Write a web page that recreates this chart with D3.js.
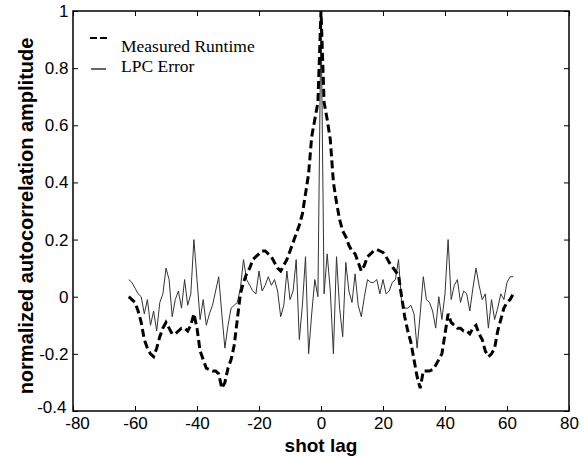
<!DOCTYPE html>
<html><head><meta charset="utf-8">
<script src="https://cdn.jsdelivr.net/npm/d3@7"></script>
<style>body{margin:0;background:#fff}</style>
</head><body><svg id="c" width="584" height="458"></svg>
<script>
const lags = [-62,-61,-60,-59,-58,-57,-56,-55,-54,-53,-52,-51,-50,-49,-48,-47,-46,-45,-44,-43,-42,-41,-40,-39,-38,-37,-36,-35,-34,-33,-32,-31,-30,-29,-28,-27,-26,-25,-24,-23,-22,-21,-20,-19,-18,-17,-16,-15,-14,-13,-12,-11,-10,-9,-8,-7,-6,-5,-4,-3,-2,-1,0,1,2,3,4,5,6,7,8,9,10,11,12,13,14,15,16,17,18,19,20,21,22,23,24,25,26,27,28,29,30,31,32,33,34,35,36,37,38,39,40,41,42,43,44,45,46,47,48,49,50,51,52,53,54,55,56,57,58,59,60,61,62];

const measuredRuntime = [0.00,-0.01,-0.02,-0.05,-0.09,-0.15,-0.18,-0.20,-0.21,-0.18,-0.14,-0.11,-0.09,-0.11,-0.13,-0.13,-0.12,-0.11,-0.11,-0.12,-0.10,-0.06,-0.11,-0.19,-0.22,-0.25,-0.255,-0.26,-0.26,-0.27,-0.32,-0.30,-0.25,-0.22,-0.17,-0.08,0.01,0.05,0.08,0.10,0.13,0.14,0.15,0.16,0.16,0.15,0.14,0.12,0.10,0.09,0.11,0.13,0.16,0.19,0.22,0.25,0.29,0.36,0.43,0.56,0.62,0.68,
1.00,
0.68,0.62,0.55,0.40,0.33,0.27,0.23,0.21,0.18,0.16,0.15,0.12,0.09,0.11,0.14,0.15,0.16,0.165,0.16,0.155,0.14,0.12,0.105,0.09,0.075,0.00,-0.07,-0.12,-0.16,-0.22,-0.28,-0.32,-0.26,-0.26,-0.26,-0.255,-0.24,-0.22,-0.20,-0.13,-0.06,-0.09,-0.10,-0.11,-0.11,-0.12,-0.12,-0.13,-0.11,-0.10,-0.13,-0.15,-0.19,-0.21,-0.20,-0.18,-0.12,-0.08,-0.04,-0.02,-0.01,0.01];

const lpcError = [0.06,0.05,0.03,0.01,0.00,-0.06,-0.01,-0.10,-0.05,-0.12,-0.02,0.01,0.10,0.06,-0.07,-0.01,0.02,-0.04,0.06,-0.03,0.01,0.20,0.06,-0.08,-0.01,-0.10,-0.06,-0.03,0.02,0.07,-0.06,-0.18,-0.10,-0.04,-0.03,-0.02,0.03,0.13,0.06,0.04,0.02,0.01,0.09,0.02,0.04,0.07,0.04,0.06,0.02,-0.07,-0.03,0.09,-0.01,0.02,0.13,-0.15,-0.03,0.14,-0.20,-0.06,0.06,0.00,
1.00,
0.01,0.15,0.02,-0.20,0.14,-0.04,-0.14,0.12,0.02,-0.02,0.08,-0.03,-0.07,0.00,0.06,0.05,0.05,0.06,0.01,0.06,0.01,0.02,0.05,0.06,0.13,-0.02,-0.04,-0.04,-0.03,-0.06,-0.18,-0.06,0.07,-0.01,-0.02,-0.05,-0.11,0.00,-0.08,0.01,0.20,-0.01,0.04,0.06,-0.02,0.02,0.01,-0.05,0.03,0.10,0.04,-0.01,0.01,-0.11,-0.01,-0.08,-0.04,0.01,-0.01,0.05,0.07,0.07];

const xTicks = [-80,-60,-40,-20,0,20,40,60,80];
const xTickLabels = ["-80","-60","-40","-20","0","20","40","60","80"];
const yTicks = [-0.4,-0.2,0,0.2,0.4,0.6,0.8,1];
const yTickLabels = ["-0.4","-0.2","0","0.2","0.4","0.6","0.8","1"];
const seriesNames = ["Measured Runtime","LPC Error"];
const xLabel = "shot lag";
const yLabel = "normalized autocorrelation amplitude";

const svg = d3.select("#c");
const L = 73, T = 11, R = 569, B = 411;
const x = d3.scaleLinear().domain([-80,80]).range([L,R]);
const y = d3.scaleLinear().domain([-0.4,1]).range([B,T]);

const line = d3.line().x((d,i)=>x(lags[i])).y(d=>y(d));

svg.append("path").datum(lpcError).attr("d",line)
  .attr("fill","none").attr("stroke","#333").attr("stroke-width",1);
svg.append("path").datum(measuredRuntime).attr("d",line)
  .attr("fill","none").attr("stroke","#000").attr("stroke-width",3)
  .attr("stroke-dasharray","8,4");

function styleAxis(g){
  g.select(".domain").remove();
  g.selectAll(".tick line").attr("stroke","#000").attr("stroke-width",1);
  g.selectAll("text").attr("fill","#000");
  g.attr("font-family","'Liberation Sans', Arial, sans-serif").attr("font-size",17);
}

const gx = svg.append("g").attr("transform",`translate(0,${B})`)
  .call(d3.axisBottom(x).tickValues(xTicks).tickFormat((d,i)=>xTickLabels[i])
    .tickSizeInner(-5).tickSizeOuter(0).tickPadding(6)).call(styleAxis);
// first x label sits slightly right of its tick in the reference
gx.selectAll(".tick text").filter(d=>d===xTicks[0]).attr("dx",4);
const gy = svg.append("g").attr("transform",`translate(${L},0)`)
  .call(d3.axisLeft(y).tickValues(yTicks).tickFormat((d,i)=>yTickLabels[i])
    .tickSizeInner(-5).tickSizeOuter(0).tickPadding(4.5)).call(styleAxis);
gy.selectAll(".tick text").filter(d=>d===yTicks[0]).attr("dx",-2).attr("dy","0.1em");
svg.append("g").attr("transform",`translate(0,${T})`)
  .call(d3.axisTop(x).tickValues(xTicks).tickFormat("")
    .tickSizeInner(-5).tickSizeOuter(0)).call(styleAxis);
svg.append("g").attr("transform",`translate(${R},0)`)
  .call(d3.axisRight(y).tickValues(yTicks).tickFormat("")
    .tickSizeInner(-5).tickSizeOuter(0)).call(styleAxis);

svg.append("rect").attr("x",L).attr("y",T).attr("width",R-L).attr("height",B-T)
  .attr("fill","none").attr("stroke","#000").attr("stroke-width",1.5);

// legend
const lg = svg.append("g");
lg.append("line").attr("x1",90).attr("x2",107).attr("y1",38).attr("y2",38)
  .attr("stroke","#000").attr("stroke-width",1.8).attr("stroke-dasharray","7,3");
lg.append("text").attr("x",121).attr("y",52).text(seriesNames[0])
  .attr("font-family","'Liberation Serif', 'Times New Roman', serif").attr("font-size",17.5);
lg.append("line").attr("x1",91).attr("x2",106).attr("y1",69).attr("y2",69)
  .attr("stroke","#000").attr("stroke-width",1.2);
lg.append("text").attr("x",121).attr("y",72).text(seriesNames[1])
  .attr("font-family","'Liberation Serif', 'Times New Roman', serif").attr("font-size",17.5);

svg.append("text").attr("x",321).attr("y",452).attr("text-anchor","middle")
  .attr("font-family","'Liberation Sans', Arial, sans-serif").attr("font-weight","bold")
  .attr("font-size",19).text(xLabel);
svg.append("text").attr("transform","translate(33,216) rotate(-90)").attr("text-anchor","middle")
  .attr("font-family","'Liberation Sans', Arial, sans-serif").attr("font-weight","bold")
  .attr("font-size",20).text(yLabel);
</script></body></html>
